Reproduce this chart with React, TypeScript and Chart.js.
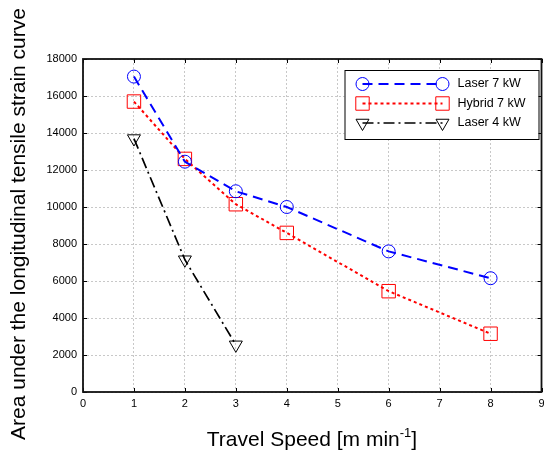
import React, { useEffect, useRef } from "react";
import { Chart, registerables } from "chart.js";

Chart.register(...registerables);

// ---- data ----
const speeds7 = [1, 2, 3, 4, 6, 8];
const laser7 = [17050, 12450, 10850, 10000, 7600, 6150];
const hybrid7 = [15700, 12600, 10150, 8600, 5450, 3150];
const speeds4 = [1, 2, 3];
const laser4 = [13700, 7150, 2550];
const seriesLabels = ["Laser 7 kW", "Hybrid 7 kW", "Laser 4 kW"];
const xMin = 0;
const xMax = 9;
const xStep = 1;
const yMin = 0;
const yMax = 18000;
const yStep = 2000;
const xTitleMain = "Travel Speed [m min";
const xTitleSup = "-1";
const xTitleEnd = "]";
const yTitle = "Area under the longitudinal tensile strain curve";

const FONT = "'Liberation Sans', Arial, Helvetica, sans-serif";

type Style = {
  color: string;
  dash: number[];
  width: number;
  marker: "circle" | "rect" | "triangle";
  radius: number;
};
const styles: Style[] = [
  { color: "#0000ff", dash: [10, 6], width: 2, marker: "circle", radius: 6.5 },
  { color: "#ff0000", dash: [3, 3], width: 2, marker: "rect", radius: 9.5 },
  { color: "#000000", dash: [11, 4, 2, 4], width: 1.7, marker: "triangle", radius: 7.5 },
];

function drawMarker(ctx: CanvasRenderingContext2D, s: Style, x: number, y: number) {
  ctx.save();
  ctx.setLineDash([]);
  ctx.lineWidth = 1;
  ctx.strokeStyle = s.color;
  ctx.beginPath();
  if (s.marker === "circle") {
    ctx.arc(x, y, s.radius, 0, Math.PI * 2);
  } else if (s.marker === "rect") {
    const h = s.radius * Math.SQRT1_2;
    ctx.rect(x - h, y - h, 2 * h, 2 * h);
  } else {
    const r = s.radius;
    ctx.moveTo(x, y + r);
    ctx.lineTo(x - r * Math.sin(Math.PI / 3), y - r * 0.5);
    ctx.lineTo(x + r * Math.sin(Math.PI / 3), y - r * 0.5);
    ctx.closePath();
  }
  ctx.stroke();
  ctx.restore();
}

const decorPlugin = {
  id: "decor",
  afterDraw(chart: any) {
    const ctx: CanvasRenderingContext2D = chart.ctx;
    const a = chart.chartArea;
    const xs = chart.scales.x;
    const ys = chart.scales.y;
    ctx.save();
    // inward tick marks
    ctx.strokeStyle = "#000";
    ctx.lineWidth = 1;
    ctx.setLineDash([]);
    ctx.beginPath();
    for (let v = xMin; v <= xMax; v += xStep) {
      const px = Math.round(xs.getPixelForValue(v)) + 0.5;
      ctx.moveTo(px, a.bottom);
      ctx.lineTo(px, a.bottom - 4);
      ctx.moveTo(px, a.top);
      ctx.lineTo(px, a.top + 4);
    }
    for (let v = yMin; v <= yMax; v += yStep) {
      const py = Math.round(ys.getPixelForValue(v)) + 0.5;
      ctx.moveTo(a.left, py);
      ctx.lineTo(a.left + 4, py);
      ctx.moveTo(a.right, py);
      ctx.lineTo(a.right - 4, py);
    }
    ctx.stroke();
    // plot frame
    ctx.lineWidth = 1.8;
    ctx.strokeStyle = "#111";
    ctx.strokeRect(a.left, a.top, a.right - a.left, a.bottom - a.top);

    // legend
    const bx = a.right - 197;
    const by = a.top + 11;
    const bw = 194;
    const bh = 69;
    ctx.fillStyle = "#fff";
    ctx.fillRect(bx, by, bw, bh);
    ctx.lineWidth = 1;
    ctx.strokeStyle = "#000";
    ctx.strokeRect(bx + 0.5, by + 0.5, bw, bh);
    ctx.font = `12.5px ${FONT}`;
    ctx.textBaseline = "middle";
    ctx.textAlign = "left";
    seriesLabels.forEach((lab, i) => {
      const s = styles[i];
      const ry = by + 14 + i * 19.5;
      const x1 = bx + 18;
      const x2 = bx + 98;
      ctx.save();
      ctx.strokeStyle = s.color;
      ctx.lineWidth = s.width;
      ctx.setLineDash(s.dash);
      ctx.beginPath();
      ctx.moveTo(x1, ry);
      ctx.lineTo(x2, ry);
      ctx.stroke();
      ctx.restore();
      drawMarker(ctx, s, x1, ry);
      drawMarker(ctx, s, x2, ry);
      ctx.fillStyle = "#000";
      ctx.fillText(lab, bx + 113, ry);
    });

    // x title with superscript
    ctx.fillStyle = "#000";
    ctx.textBaseline = "alphabetic";
    const mainFont = `21px ${FONT}`;
    const supFont = `13px ${FONT}`;
    ctx.font = mainFont;
    const w1 = ctx.measureText(xTitleMain).width;
    const w3 = ctx.measureText(xTitleEnd).width;
    ctx.font = supFont;
    const w2 = ctx.measureText(xTitleSup).width;
    const total = w1 + w2 + w3;
    const cx = 312;
    const base = 446;
    const x0 = cx - total / 2;
    ctx.font = mainFont;
    ctx.fillText(xTitleMain, x0, base);
    ctx.font = supFont;
    ctx.fillText(xTitleSup, x0 + w1, base - 9);
    ctx.font = mainFont;
    ctx.fillText(xTitleEnd, x0 + w1 + w2, base);

    // y title
    ctx.save();
    ctx.translate(19, 224);
    ctx.rotate(-Math.PI / 2);
    ctx.font = `21px ${FONT}`;
    ctx.textAlign = "center";
    ctx.textBaseline = "middle";
    ctx.fillText(yTitle, 0, 0);
    ctx.restore();

    ctx.restore();
  },
};

function mkData(xs: number[], ys: number[]) {
  return xs.map((x, i) => ({ x, y: ys[i] }));
}

export default function App() {
  const ref = useRef<HTMLCanvasElement>(null);
  useEffect(() => {
    if (!ref.current) return;
    const series = [mkData(speeds7, laser7), mkData(speeds7, hybrid7), mkData(speeds4, laser4)];
    const chart = new Chart(ref.current, {
      type: "line",
      data: {
        datasets: series.map((d, i) => ({
          label: seriesLabels[i],
          data: d,
          borderColor: styles[i].color,
          borderWidth: styles[i].width,
          borderDash: styles[i].dash,
          backgroundColor: "rgba(0,0,0,0)",
          pointStyle: styles[i].marker,
          pointRotation: styles[i].marker === "triangle" ? 180 : 0,
          pointRadius: styles[i].radius,
          pointBorderWidth: 1,
          pointBorderColor: styles[i].color,
          pointBackgroundColor: "rgba(0,0,0,0)",
          fill: false,
          tension: 0,
        })),
      },
      options: {
        responsive: false,
        animation: false,
        events: [],
        layout: { padding: { left: 0, right: 0, top: 59, bottom: 0 } },
        plugins: {
          legend: { display: false },
          tooltip: { enabled: false },
          title: { display: false },
        },
        scales: {
          x: {
            type: "linear",
            min: xMin,
            max: xMax,
            ticks: {
              stepSize: xStep,
              color: "#000",
              font: { family: FONT, size: 11 },
              padding: 5,
              maxRotation: 0,
              callback: (v: any) => String(v),
            },
            grid: { color: "#c8c8c8", lineWidth: 1, drawTicks: false },
            border: { display: false, dash: [2, 2] },
            afterFit(scale: any) {
              scale.height = 61;
              scale.paddingLeft = 0;
              scale.paddingRight = 0;
            },
          },
          y: {
            type: "linear",
            min: yMin,
            max: yMax,
            ticks: {
              stepSize: yStep,
              color: "#000",
              font: { family: FONT, size: 11 },
              padding: 6,
              callback: (v: any) => String(v),
            },
            grid: { color: "#c8c8c8", lineWidth: 1, drawTicks: false },
            border: { display: false, dash: [2, 2] },
            afterFit(scale: any) {
              scale.width = 83;
              scale.paddingTop = 0;
              scale.paddingBottom = 0;
            },
          },
        },
      },
      plugins: [decorPlugin],
    } as any);
    return () => chart.destroy();
  }, []);
  return (
    <div style={{ position: "fixed", left: 0, top: 0, width: 544, height: 453, overflow: "hidden", background: "#fff" }}>
      <canvas ref={ref} width={552} height={453} />
    </div>
  );
}
